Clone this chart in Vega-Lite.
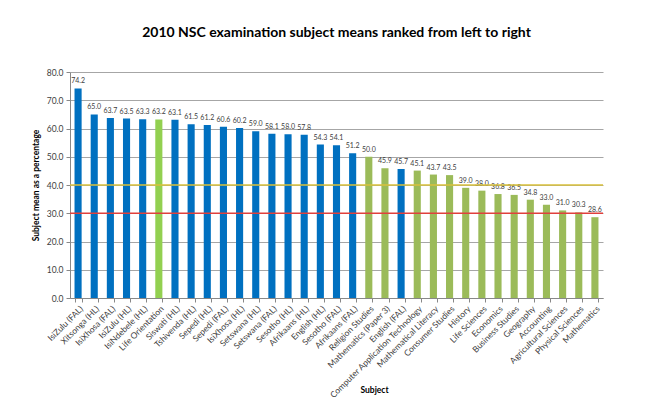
{
  "$schema": "https://vega.github.io/schema/vega-lite/v6.json",
  "autosize": "none",
  "width": 533,
  "height": 226,
  "padding": {"left": 70, "top": 72, "right": 53, "bottom": 115},
  "background": "white",
  "config": {
    "font": "Lato",
    "view": {"stroke": null},
    "axis": {"labelFont": "Lato", "titleFont": "Lato", "labelColor": "#404040", "titleColor": "#000000"}
  },
  "title": {
    "text": "2010 NSC examination subject means ranked from left to right",
    "fontSize": 14,
    "fontWeight": "bold",
    "font": "Lato",
    "color": "#000000",
    "anchor": "middle",
    "offset": 28
  },
  "datasets": {
    "subjects": [
      {"subject": "IsiZulu (FAL)", "mean": 74.2, "category": "Language"},
      {"subject": "Xitsonga (HL)", "mean": 65.0, "category": "Language"},
      {"subject": "IsiXhosa (FAL)", "mean": 63.7, "category": "Language"},
      {"subject": "IsiZulu (HL)", "mean": 63.5, "category": "Language"},
      {"subject": "IsiNdebele (HL)", "mean": 63.3, "category": "Language"},
      {"subject": "Life Orientation", "mean": 63.2, "category": "Life Orientation"},
      {"subject": "Siswati (HL)", "mean": 63.1, "category": "Language"},
      {"subject": "Tshivenda (HL)", "mean": 61.5, "category": "Language"},
      {"subject": "Sepedi (HL)", "mean": 61.2, "category": "Language"},
      {"subject": "Sepedi (FAL)", "mean": 60.6, "category": "Language"},
      {"subject": "IsiXhosa (HL)", "mean": 60.2, "category": "Language"},
      {"subject": "Setswana (HL)", "mean": 59.0, "category": "Language"},
      {"subject": "Setswana (FAL)", "mean": 58.1, "category": "Language"},
      {"subject": "Sesotho (HL)", "mean": 58.0, "category": "Language"},
      {"subject": "Afrikaans (HL)", "mean": 57.8, "category": "Language"},
      {"subject": "English (HL)", "mean": 54.3, "category": "Language"},
      {"subject": "Sesotho (FAL)", "mean": 54.1, "category": "Language"},
      {"subject": "Afrikaans (FAL)", "mean": 51.2, "category": "Language"},
      {"subject": "Religion Studies", "mean": 50.0, "category": "Other"},
      {"subject": "Mathematics (Paper 3)", "mean": 45.9, "category": "Other"},
      {"subject": "English (FAL)", "mean": 45.7, "category": "Language"},
      {"subject": "Computer Application Technology", "mean": 45.1, "category": "Other"},
      {"subject": "Mathematical Literacy", "mean": 43.7, "category": "Other"},
      {"subject": "Consumer Studies", "mean": 43.5, "category": "Other"},
      {"subject": "History", "mean": 39.0, "category": "Other"},
      {"subject": "Life Sciences", "mean": 38.0, "category": "Other"},
      {"subject": "Economics", "mean": 36.8, "category": "Other"},
      {"subject": "Business Studies", "mean": 36.5, "category": "Other"},
      {"subject": "Geography", "mean": 34.8, "category": "Other"},
      {"subject": "Accounting", "mean": 33.0, "category": "Other"},
      {"subject": "Agricultural Sciences", "mean": 31.0, "category": "Other"},
      {"subject": "Physical Sciences", "mean": 30.3, "category": "Other"},
      {"subject": "Mathematics", "mean": 28.6, "category": "Other"}
    ]
  },
  "resolve": {"axis": {"x": "independent", "y": "independent"}},
  "layer": [
    {
      "data": {"name": "subjects"},
      "mark": {"type": "bar"},
      "encoding": {
        "x": {
          "field": "subject",
          "type": "nominal",
          "sort": null,
          "scale": {"paddingInner": 0.56, "paddingOuter": 0.28},
          "axis": {
            "orient": "bottom",
            "title": "Subject",
            "titleFontSize": 8.5,
            "titleFontWeight": "bold",
            "titleX": 304,
            "titleY": 91,
            "titleBaseline": "middle",
            "labelAngle": -45,
            "labelFontSize": 8.5,
            "labelPadding": 2,
            "tickBand": "extent",
            "tickSize": 4,
            "tickColor": "#888888",
            "domainColor": "#888888",
            "labelOverlap": false
          }
        },
        "y": {
          "field": "mean",
          "type": "quantitative",
          "scale": {"domain": [0, 80], "nice": false},
          "axis": {
            "orient": "left",
            "title": "Subject mean as a percentage",
            "titleFontSize": 8.5,
            "titleFontWeight": "bold",
            "titleX": -35,
            "titleY": 113,
            "titleBaseline": "middle",
            "titleAngle": -90,
            "values": [0, 10, 20, 30, 40, 50, 60, 70, 80],
            "format": ".1f",
            "labelFontSize": 8.5,
            "labelPadding": 3,
            "labelOverlap": false,
            "tickSize": 4,
            "tickColor": "#888888",
            "domainColor": "#888888",
            "gridColor": "#A6A6A6",
            "gridWidth": 1
          }
        },
        "color": {
          "field": "category",
          "type": "nominal",
          "scale": {"domain": ["Language", "Life Orientation", "Other"], "range": ["#0070C0", "#92D050", "#9BBB59"]},
          "legend": null
        }
      }
    },
    {
      "data": {"name": "subjects"},
      "mark": {"type": "text", "dy": -7, "fontSize": 7, "color": "#404040", "font": "Lato"},
      "encoding": {
        "x": {"field": "subject", "type": "nominal", "sort": null, "axis": null},
        "y": {"field": "mean", "type": "quantitative", "axis": null},
        "text": {"field": "mean", "type": "quantitative", "format": ".1f"}
      }
    },
    {
      "data": {"values": [{"threshold": 40}]},
      "mark": {"type": "rule", "color": "#D9C13B", "strokeWidth": 1.5},
      "encoding": {"y": {"field": "threshold", "type": "quantitative", "axis": null}}
    },
    {
      "data": {"values": [{"threshold": 30}]},
      "mark": {"type": "rule", "color": "#E0403C", "strokeWidth": 1.5},
      "encoding": {"y": {"field": "threshold", "type": "quantitative", "axis": null}}
    }
  ]
}
